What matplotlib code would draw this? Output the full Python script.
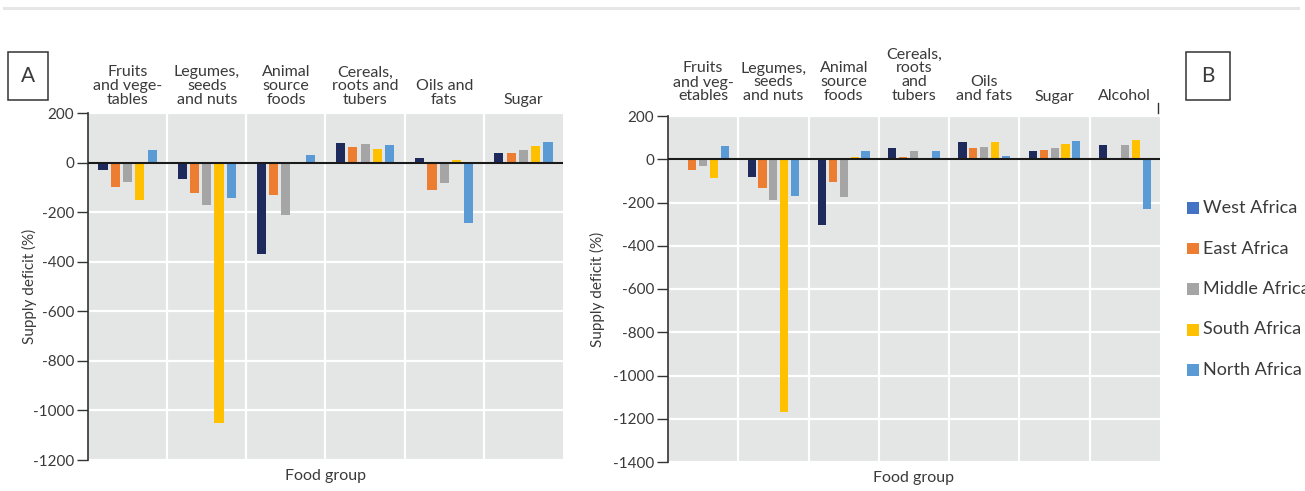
import matplotlib
matplotlib.use("Agg")
import matplotlib.pyplot as plt
from matplotlib.patches import Rectangle
from matplotlib.lines import Line2D

plt.rcParams['font.family'] = ['Lato', 'DejaVu Sans']
plt.rcParams['axes.unicode_minus'] = False

# ---- data -------------------------------------------------------------
regions = ["West Africa", "East Africa", "Middle Africa", "South Africa", "North Africa"]
bar_colors = ["#1F2A5C", "#ED7D31", "#A5A5A5", "#FFC000", "#5B9BD5"]
legend_colors = ["#4472C4", "#ED7D31", "#A5A5A5", "#FFC000", "#5B9BD5"]

groups_a = ["Fruits\nand vege-\ntables", "Legumes,\nseeds\nand nuts", "Animal\nsource\nfoods",
            "Cereals,\nroots and\ntubers", "Oils and\nfats", "Sugar"]
west_a = [-28, -65, -370, 79, 17, 37]
east_a = [-100, -121, -132, 61, -112, 40]
middle_a = [-77, -172, -213, 73, -81, 49]
south_a = [-152, -1050, 0, 56, 11, 67]
north_a = [50, -144, 29, 69, -245, 85]
yticks_a = [200, 0, -200, -400, -600, -800, -1000, -1200]

groups_b = ["Fruits\nand veg-\netables", "Legumes,\nseeds\nand nuts", "Animal\nsource\nfoods",
            "Cereals,\nroots\nand\ntubers", "Oils\nand fats", "Sugar", "Alcohol"]
west_b = [0, -83, -305, 54, 82, 40, 68]
east_b = [-51, -134, -103, 11, 51, 45, 8]
middle_b = [-32, -189, -175, 40, 58, 52, 68]
south_b = [-89, -1170, 12, 0, 82, 69, 91]
north_b = [62, -172, 37, 38, 17, 86, -230]
yticks_b = [200, 0, -200, -400, -600, -800, -1000, -1200, -1400]

TEXT = "#3a3a3a"
W, H = 1305, 491

fig = plt.figure(figsize=(W / 100, H / 100), dpi=100)


def px_axes(left, top, right, bottom):
    return fig.add_axes([left / W, 1 - bottom / H, (right - left) / W, (bottom - top) / H])


def panel(ax, groups, series, yticks, label_pad, ylabel_x):
    n = len(groups)
    step, width = 0.155, 0.115
    ax.set_facecolor("#E4E5E5")
    for j, (vals, col) in enumerate(zip(series, bar_colors)):
        xs = [i + (j - 2) * step for i in range(n)]
        ax.bar(xs, vals, width=width, color=col, zorder=2)
    ax.axhline(0, color="#1a1a1a", lw=1.5, zorder=3)
    ax.set_xlim(-0.5, n - 0.5)
    ax.set_ylim(min(yticks), max(yticks))
    ax.set_yticks(yticks)
    ax.set_yticklabels([str(t) for t in yticks])
    ax.set_xticks([])
    ax.set_xticks([i + 0.5 for i in range(n - 1)], minor=True)
    ax.tick_params(axis="x", which="both", length=0)
    ax.tick_params(axis="y", length=8, width=1, color="#333333", labelcolor=TEXT,
                   labelsize=11, pad=2)
    ax.set_axisbelow(True)
    ax.yaxis.grid(True, color="white", lw=1.6)
    ax.xaxis.grid(True, which="minor", color="white", lw=1.6)
    for s in ("top", "right", "bottom"):
        ax.spines[s].set_visible(False)
    ax.spines["left"].set_color("#333333")
    ax.spines["left"].set_linewidth(1.2)
    for i, g in enumerate(groups):
        ax.annotate(g, xy=(i, 1), xycoords=("data", "axes fraction"),
                    xytext=(0, label_pad), textcoords="offset points",
                    ha="center", va="bottom", multialignment="center",
                    fontsize=11.5, color=TEXT, linespacing=1.0)
    ax.set_xlabel("Food group", fontsize=11.5, color=TEXT, labelpad=3)
    ax.set_ylabel("Supply deficit (%)", fontsize=11, color=TEXT)
    ax.yaxis.set_label_coords(ylabel_x, 0.5)


ax_a = px_axes(88, 113, 563, 460)
panel(ax_a, groups_a, [west_a, east_a, middle_a, south_a, north_a], yticks_a, 4, -0.108)

ax_b = px_axes(668, 116, 1160, 462)
panel(ax_b, groups_b, [west_b, east_b, middle_b, south_b, north_b], yticks_b, 9, -0.128)
ax_b.add_line(Line2D([0.995, 0.995], [1.008, 1.037], transform=ax_b.transAxes,
                     color="#333333", lw=1, clip_on=False))

# thin rule across the top
fig.add_artist(Line2D([4 / W, 1298 / W], [1 - 8 / H, 1 - 8 / H], color="#E6E6E6", lw=2.2))

# panel letters in boxes
for letter, x0, x1 in (("A", 8, 48), ("B", 1186, 1230)):
    fig.add_artist(Rectangle((x0 / W, 1 - 100 / H), (x1 - x0) / W, 48 / H,
                             transform=fig.transFigure, fill=False, ec="#333333", lw=1.1))
    fig.text((x0 + x1) / 2 / W, 1 - 76 / H, letter, ha="center", va="center",
             fontsize=15, color=TEXT)

# legend
for k, (name, col) in enumerate(zip(regions, legend_colors)):
    yc = 208 + k * 40.5
    fig.add_artist(Rectangle((1187 / W, 1 - (yc + 6) / H), 12 / W, 12 / H,
                             transform=fig.transFigure, color=col, lw=0))
    fig.text(1203 / W, 1 - yc / H, name, ha="left", va="center",
             fontsize=13, color=TEXT)

fig.savefig("out.png", dpi=100)
